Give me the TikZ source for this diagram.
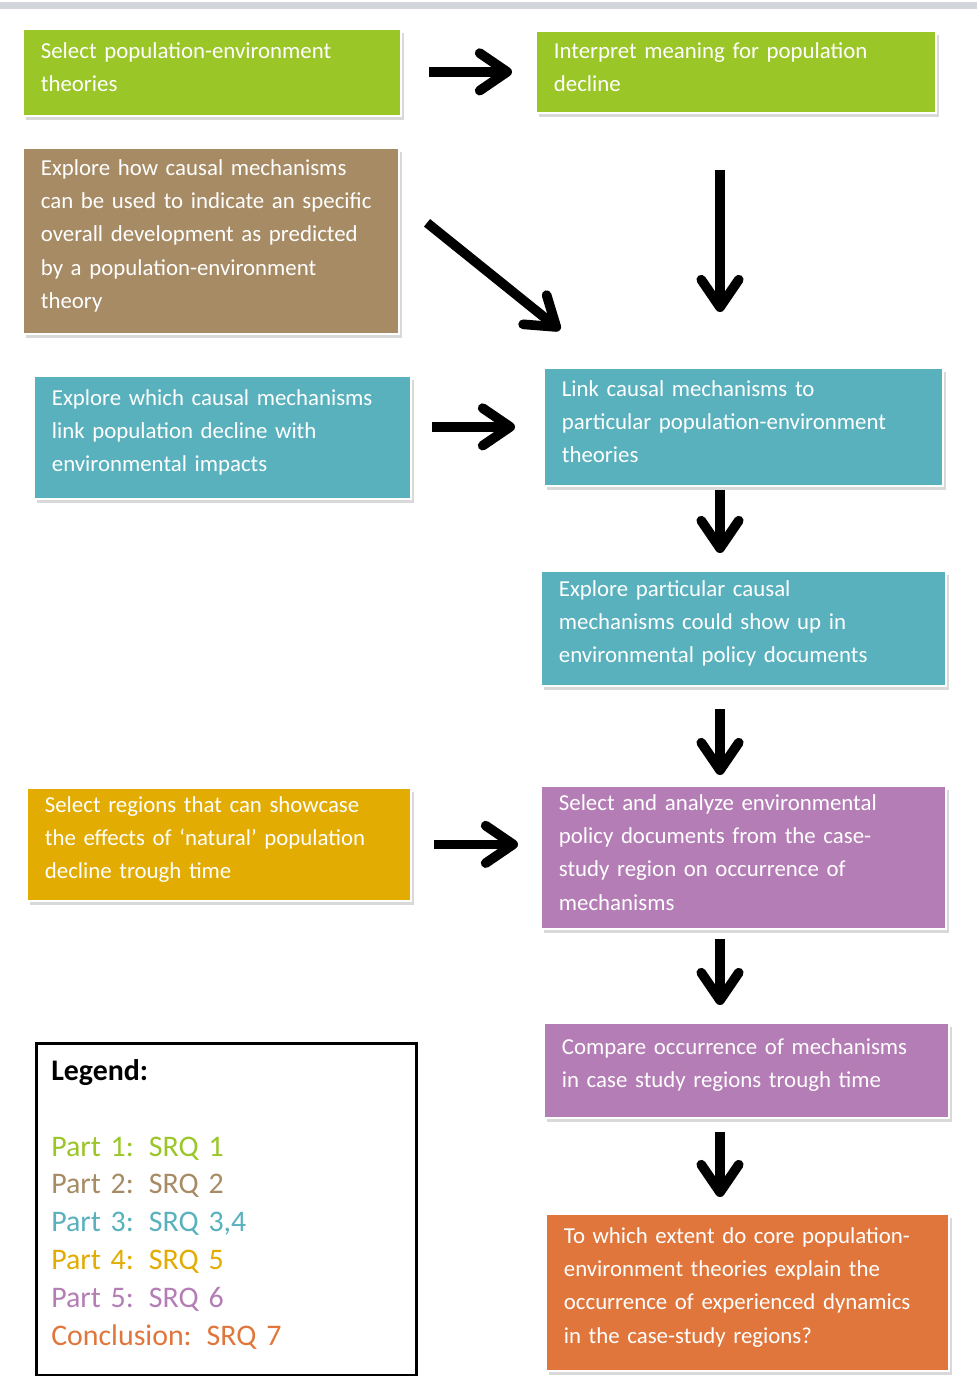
\documentclass[tikz,border=0pt]{standalone}
\usepackage{fontspec}
\setmainfont{Carlito}
\usetikzlibrary{arrows.meta, shadows}

\definecolor{partgreen}{RGB}{155,198,40}
\definecolor{partbrown}{RGB}{166,139,101}
\definecolor{partteal}{RGB}{88,177,189}
\definecolor{partyellow}{RGB}{226,172,2}
\definecolor{partpurple}{RGB}{181,125,181}
\definecolor{partorange}{RGB}{224,118,59}
\definecolor{topgray}{RGB}{210,213,219}

\newcommand{\boxpad}{\par\kern2mm}

\tikzstyle{stage} = [rectangle, anchor=north west, inner xsep=3.6mm, inner ysep=1.5mm, align=left, text=white, draw=white, line width=1pt, font=\fontsize{13}{18.9}\selectfont, execute at end node=\boxpad, drop shadow={shadow xshift=0.6mm, shadow yshift=-0.8mm, opacity=0.3}]
\tikzstyle{greenbox} = [stage, fill=partgreen]
\tikzstyle{brownbox} = [stage, fill=partbrown]
\tikzstyle{tealbox} = [stage, fill=partteal]
\tikzstyle{yellowbox} = [stage, fill=partyellow]
\tikzstyle{purplebox} = [stage, fill=partpurple]
\tikzstyle{orangebox} = [stage, fill=partorange]
\tikzstyle{legendbox} = [rectangle, anchor=north west, draw=black, line width=0.5mm, fill=white, align=left, inner xsep=3mm, execute at end node=\boxpad, font=\fontsize{17}{21.5}\selectfont]
\tikzstyle{arrow} = [line width=5.5pt, -{Straight Barb[length=5.5mm,width=7.5mm,round]}]

\begin{document}
\begin{tikzpicture}[x=0.2mm, y=-0.2mm]
    \useasboundingbox (0,0) rectangle (977,1376);
    \fill [topgray] (0,2) rectangle (977,9);
    \coordinate (spine) at (720,0);

    % left column
    \node [greenbox, minimum width=75.6mm, text width=68.4mm, minimum height=17.4mm] at (22,28) (select) {Select population-environment\\theories};
    \node [brownbox, minimum width=75.2mm, text width=68mm, minimum height=37.2mm] at (22,147) (causal) {Explore how causal mechanisms\\can be used to indicate an specific\\overall development as predicted\\by a population-environment\\theory};
    \node [tealbox, minimum width=75.4mm, text width=68.2mm, minimum height=24.6mm] at (33,375) (which) {Explore which causal mechanisms\\link population decline with\\environmental impacts};
    \node [yellowbox, minimum width=76.8mm, text width=69.6mm, minimum height=22.6mm] at (26,787) (regions) {Select regions that can showcase\\the effects of ‘natural’ population\\decline trough time};

    % right column
    \node [greenbox, minimum width=80mm, text width=72.8mm, minimum height=16.4mm] at (535,30) (interpret) {Interpret meaning for population\\decline};
    \node [tealbox, minimum width=79.8mm, text width=72.6mm, minimum height=23.6mm] at (543,367) (link) {Link causal mechanisms to\\particular population-environment\\theories};
    \node [tealbox, minimum width=81mm, text width=73.8mm, minimum height=23mm] at (540,570) (showup) {Explore particular causal\\mechanisms could show up in\\environmental policy documents};
    \node [purplebox, minimum width=81mm, text width=73.8mm, minimum height=28.6mm] at (540,785) (analyze) {Select and analyze environmental\\policy documents from the case-\\study region on occurrence of\\mechanisms};
    \node [purplebox, minimum width=81mm, text width=73.8mm, minimum height=19mm] at (543,1022) (compare) {Compare occurrence of mechanisms\\in case study regions trough time};
    \node [orangebox, minimum width=80.6mm, text width=73.4mm, minimum height=31.4mm] at (545,1213) (extent) {To which extent do core population-\\environment theories explain the\\occurrence of experienced dynamics\\in the case-study regions?};

    % legend
    \node [legendbox, minimum width=76mm, text width=70mm, minimum height=66.4mm] at (35,1042) (legend) {\textbf{Legend:}\\[21.5pt]
        \textcolor{partgreen}{Part 1: SRQ 1}\\
        \textcolor{partbrown}{Part 2: SRQ 2}\\
        \textcolor{partteal}{Part 3: SRQ 3,4}\\
        \textcolor{partyellow}{Part 4: SRQ 5}\\
        \textcolor{partpurple}{Part 5: SRQ 6}\\
        \textcolor{partorange}{Conclusion: SRQ 7}};

    \draw [arrow, shorten <=5.4mm, shorten >=4.6mm] (interpret.west -| select.east) -- (interpret.west);
    \draw [arrow, shorten <=7mm, shorten >=11.8mm] ([yshift=8mm]causal.east) -- ([xshift=12.6mm]link.north west);
    \draw [arrow, shorten <=11.2mm, shorten >=11mm] (interpret.south -| spine) -- (link.north -| spine);
    \draw [arrow, shorten <=4mm, shorten >=5.6mm] (link.west -| which.east) -- (link.west);
    \draw [arrow, shorten <=0.6mm, shorten >=3.4mm] (link.south -| spine) -- (showup.north -| spine);
    \draw [arrow, shorten <=4.4mm, shorten >=2mm] (showup.south -| spine) -- (analyze.north -| spine);
    \draw [arrow, shorten <=4.4mm, shorten >=4.4mm] (regions.east) -- (regions.east -| analyze.west);
    \draw [arrow, shorten <=1.8mm, shorten >=3.4mm] (analyze.south -| spine) -- (compare.north -| spine);
    \draw [arrow, shorten <=2.6mm, shorten >=3.2mm] (compare.south -| spine) -- (extent.north -| spine);
\end{tikzpicture}
\end{document}
